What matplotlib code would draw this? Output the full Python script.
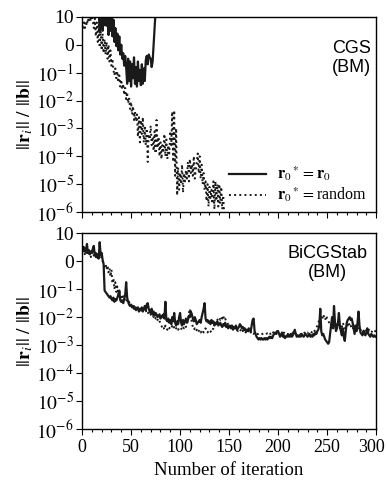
import matplotlib
matplotlib.use("Agg")
import matplotlib.pyplot as plt
import numpy as np
from matplotlib.ticker import FixedLocator, LogLocator, NullFormatter, MultipleLocator

plt.rcParams['font.family'] = ['Liberation Serif', 'DejaVu Serif']
plt.rcParams['mathtext.fontset'] = 'stix'

# log10 of ||r_i||/||b|| (values > 1 are off the top of the axes)
cgs_r0_log = [
    1.5, 1.5, 1.5, 1.5, 1.5, 1.5, 1.5, 1.5, 1.5, 1.5,
    1.5, 1.5, 1.5, 1.5, 1.5, 1.5, 1.5, 1.2, 0.45, 1.1,
    0.9, 0.5, 1.05, 0.7, 1.2, 0.68, 1.1, 0.35, 1.15, 0.5,
    1.1, 0.3, 0.9, 0.1, 0.6, -0.05, 0.4, -0.2, 0.3, -0.35,
    0.0, -0.5, -0.3, -0.75, -0.4, -0.8, -1.4, -0.5, -1.3, -0.6,
    -1.5, -0.7, -1.2, -0.45, -1.4, -0.8, -1.5, -0.6, -1.3, -0.9,
    -1.45, -0.7, -1.4, -0.85, -1.3, -0.55, -0.4, -0.7, -0.35, -0.45,
    -0.5, -0.8, -0.6, 0.0, 0.6, 1.2, 1.6,
]
cgs_rand_log = [
    0.7, 0.55, 0.8, 0.6, 0.85, 0.7, 0.95, 0.8, 1.0, 0.9,
    1.0, 0.85, 0.6, 0.95, 0.3, 0.8, 0.1, 0.7, -0.1, 0.5,
    -0.2, 0.4, -0.3, 0.2, -0.35, 0.1, -0.5, 0.0, -0.6, -0.2,
    -0.75, -0.5, -0.9, -1.1, -0.85, -1.2, -0.95, -1.35, -1.1, -1.5,
    -1.25, -1.6, -1.4, -1.8, -1.55, -1.95, -1.7, -2.1, -1.9, -2.3,
    -2.05, -2.5, -2.2, -2.7, -2.4, -2.75, -2.5, -3.3, -2.6, -3.5,
    -2.7, -3.2, -2.6, -3.5, -2.9, -3.6, -3.0, -4.2, -3.2, -3.4,
    -2.9, -3.6, -3.3, -3.8, -3.1, -3.9, -2.7, -3.7, -3.3, -4.0,
    -3.5, -4.1, -3.6, -3.8, -3.2, -4.0, -3.4, -4.1, -3.6, -3.9,
    -3.1, -3.6, -2.4, -4.2, -2.35, -4.7, -3.0, -5.4, -4.4, -5.2,
    -4.6, -5.0, -4.3, -5.3, -4.6, -4.9, -4.5, -4.8, -4.2, -4.9,
    -4.1, -4.6, -4.3, -4.7, -4.0, -4.8, -4.5, -4.2, -3.9, -4.6,
    -4.0, -4.8, -4.3, -5.0, -4.6, -5.2, -4.9, -5.6, -5.0, -5.8,
    -5.1, -5.5, -5.2, -5.7, -4.9, -5.9, -4.9, -5.6, -5.0, -5.8,
    -5.0, -5.7, -5.1, -5.9, -5.4, -6.1,
]
bicg_r0_log = [
    0.55, 0.45, 0.5, 0.35, 0.4, 0.62, 0.3, 0.4, 0.25, 0.35,
    0.3, 0.45, 0.55, 0.2, 0.3, 0.15, 0.25, 0.1, 0.68, 0.2,
    0.3, 0.05, -0.1, -1.05, -1.1, -1.15, -1.2, -1.25, -1.3, -1.25,
    -1.35, -1.4, -1.3, -1.45, -1.35, -1.4, -1.3, -1.2, -1.05, -1.4,
    -1.45, -1.4, -1.5, -1.35, -1.2, -0.75, -1.3, -1.45, -1.55, -1.6,
    -1.55, -1.65, -1.6, -1.7, -1.65, -1.75, -1.7, -1.65, -1.8, -1.7,
    -1.75, -1.65, -1.8, -1.7, -1.6, -1.75, -1.55, -1.5, -1.7, -1.8,
    -1.85, -1.7, -1.9, -1.8, -1.95, -1.85, -1.9, -2.0, -1.95, -1.9,
    -2.05, -1.95, -2.0, -1.9, -2.05, -1.45, -2.1, -2.15, -2.05, -2.2,
    -2.1, -2.25, -2.0, -2.15, -1.85, -2.2, -2.3, -2.15, -2.25, -2.0,
    -1.85, -2.2, -2.3, -2.1, -2.25, -2.15, -2.05, -2.2, -2.1, -1.95,
    -2.0, -1.8, -1.9, -2.05, -2.15, -2.0, -2.1, -2.25, -2.2, -2.15,
    -2.1, -2.2, -2.0, -1.85, -1.7, -1.5, -2.05, -2.15, -2.1, -2.2,
    -2.15, -2.25, -2.1, -2.2, -2.15, -2.3, -2.2, -2.25, -2.15, -2.3,
    -2.25, -2.2, -2.3, -2.35, -2.25, -2.3, -2.2, -2.35, -2.3, -2.4,
    -2.3, -2.35, -2.4, -2.3, -2.45, -2.35, -2.4, -2.3, -2.45, -2.4,
    -2.35, -2.25, -2.3, -2.4, -2.35, -2.45, -2.4, -2.5, -2.45, -2.5,
    -2.4, -2.45, -2.5, -2.3, -2.1, -2.05, -2.5, -2.6, -2.7, -2.75,
    -2.8, -2.75, -2.8, -2.75, -2.8, -2.8, -2.75, -2.8, -2.75, -2.8,
    -2.75, -2.7, -2.75, -2.7, -2.75, -2.65, -2.6, -2.55, -2.6, -2.5,
    -2.5, -2.6, -2.7, -2.65, -2.55, -2.7, -2.65, -2.75, -2.7, -2.65,
    -2.7, -2.65, -2.7, -2.6, -2.7, -2.65, -2.55, -2.45, -2.6, -2.7,
    -2.65, -2.7, -2.65, -2.7, -2.6, -2.65, -2.7, -2.65, -2.6, -2.65,
    -2.7, -2.65, -2.6, -2.7, -2.65, -2.7, -2.6, -2.65, -2.55, -2.6,
    -2.5, -2.45, -2.3, -1.7, -2.5, -2.65, -2.6, -2.7, -2.8, -2.85,
    -2.9, -2.95, -2.9, -2.6, -2.3, -2.0, -2.4, -1.6, -2.2, -2.5,
    -2.4, -2.2, -1.85, -2.3, -2.5, -2.65, -2.4, -2.7, -2.85, -2.5,
    -2.2, -2.1, -2.05, -2.0, -2.1, -2.05, -2.2, -2.4, -2.6, -2.3,
    -2.5, -2.2, -1.8, -2.3, -2.55, -2.6, -2.65, -2.5, -2.6, -2.65,
    -2.55, -2.4, -2.6, -2.65, -2.7, -2.6, -2.65, -2.7, -2.65, -2.7,
    -2.7,
]
bicg_rand_log = [
    0.45, 0.3, 0.4, 0.2, 0.35, 0.25, 0.4, 0.2, 0.3, 0.15,
    0.25, 0.35, 0.2, 0.3, 0.1, 0.25, 0.05, 0.2, 0.35, 0.1,
    0.15, 0.0, -0.1, -0.2, -0.1, -0.3, -0.15, -0.4, -0.25, -0.55,
    -0.3, -0.8, -0.6, -1.0, -0.75, -1.1, -0.9, -1.2, -1.05, -1.3,
    -1.2, -1.35, -1.25, -1.4, -1.3, -1.35, -1.45, -1.5, -1.45, -1.55,
    -1.6, -1.55, -1.65, -1.6, -1.7, -1.65, -1.7, -1.75, -1.7, -1.75,
    -1.7, -1.8, -1.75, -1.7, -1.8, -1.75, -1.85, -1.8, -1.9, -1.85,
    -1.9, -1.95, -1.9, -2.0, -1.95, -2.05, -2.0, -2.1, -2.05, -2.15,
    -2.2, -2.3, -2.4, -2.35, -2.45, -2.3, -2.4, -2.45, -2.35, -2.4,
    -2.35, -2.4, -2.3, -2.4, -2.35, -2.45, -2.4, -2.35, -2.45, -2.4,
    -2.35, -2.4, -2.45, -2.35, -2.4, -2.3, -2.35, -2.25, -2.1, -1.85,
    -1.7, -1.9, -2.2, -2.35, -2.45, -2.4, -2.5, -2.45, -2.55, -2.5,
    -2.45, -2.55, -2.5, -2.45, -2.55, -2.5, -2.4, -2.5, -2.55, -2.5,
    -2.45, -2.5, -2.55, -2.45, -2.4, -2.3, -2.2, -2.15, -2.1, -2.05,
    -2.0, -2.1, -2.0, -2.05, -1.95, -2.1, -2.05, -2.15, -2.2, -2.25,
    -2.3, -2.35, -2.3, -2.4, -2.35, -2.45, -2.4, -2.35, -2.45, -2.5,
    -2.45, -2.5, -2.45, -2.4, -2.5, -2.45, -2.5, -2.55, -2.5, -2.55,
    -2.5, -2.45, -2.55, -2.5, -2.55, -2.6, -2.55, -2.6, -2.6, -2.6,
    -2.6, -2.58, -2.6, -2.62, -2.6, -2.58, -2.6, -2.62, -2.6, -2.58,
    -2.6, -2.55, -2.6, -2.58, -2.5, -2.55, -2.6, -2.55, -2.6, -2.58,
    -2.55, -2.6, -2.62, -2.6, -2.58, -2.6, -2.55, -2.6, -2.58, -2.6,
    -2.6, -2.62, -2.6, -2.58, -2.6, -2.55, -2.6, -2.58, -2.6, -2.62,
    -2.6, -2.58, -2.6, -2.62, -2.6, -2.58, -2.6, -2.55, -2.6, -2.58,
    -2.55, -2.6, -2.58, -2.6, -2.55, -2.5, -2.55, -2.5, -2.45, -2.4,
    -2.3, -2.2, -2.1, -2.0, -1.95, -2.05, -1.9, -2.0, -2.1, -1.95,
    -2.05, -2.1, -2.2, -2.3, -2.25, -2.2, -2.1, -2.3, -2.35, -2.25,
    -2.3, -2.35, -2.25, -2.4, -2.3, -2.35, -2.2, -2.3, -2.4, -2.35,
    -2.25, -2.3, -2.2, -2.35, -2.3, -2.4, -2.35, -2.45, -2.4, -2.35,
    -2.4, -2.45, -2.35, -2.4, -2.45, -2.5, -2.45, -2.5, -2.45, -2.4,
    -2.5, -2.45, -2.5, -2.45, -2.5, -2.55, -2.5, -2.45, -2.5, -2.5,
    -2.5,
]

ytick_vals = [1e1, 1e0, 1e-1, 1e-2, 1e-3, 1e-4, 1e-5, 1e-6]
ytick_labels = ['10', '0', r'$10^{-1}$', r'$10^{-2}$', r'$10^{-3}$',
                r'$10^{-4}$', r'$10^{-5}$', r'$10^{-6}$']
xtick_vals = [0, 50, 100, 150, 200, 250, 300]

fig = plt.figure(figsize=(3.87, 4.82), dpi=100)
ax1 = fig.add_axes([0.212, 0.560, 0.760, 0.405])
ax2 = fig.add_axes([0.212, 0.110, 0.760, 0.406])

def style(ax):
    ax.set_yscale('log')
    ax.set_xlim(0, 300)
    ax.set_ylim(1e-6, 1e1)
    ax.yaxis.set_major_locator(FixedLocator(ytick_vals))
    ax.set_yticklabels(ytick_labels)
    ax.yaxis.set_minor_locator(LogLocator(base=10, subs=np.arange(2, 10)))
    ax.yaxis.set_minor_formatter(NullFormatter())
    ax.set_xticks(xtick_vals)
    ax.xaxis.set_minor_locator(MultipleLocator(10))
    ax.tick_params(axis='y', which='major', direction='out', length=4, labelsize=14, pad=2)
    ax.tick_params(axis='y', which='minor', direction='in', length=2.5)
    ax.tick_params(axis='x', which='major', direction='out', length=4, labelsize=13)
    ax.tick_params(axis='x', which='minor', direction='out', length=2.5)
    ax.tick_params(width=0.8, which='both')
    for s in ax.spines.values():
        s.set_linewidth(1.0)
    ax.set_ylabel(r'$||\mathbf{r}_i||\ /\ ||\mathbf{b}||$', fontsize=14, labelpad=1)

for ax in (ax1, ax2):
    style(ax)

it1 = np.arange(len(cgs_r0_log))
it2 = np.arange(len(cgs_rand_log))
ax1.plot(it1, 10.0 ** np.array(cgs_r0_log), color='#1a1a1a', lw=1.6, ls='-',
         label=r'$\mathbf{r}_0{}^* = \mathbf{r}_0$')
ax1.plot(it2, 10.0 ** np.array(cgs_rand_log), color='#1a1a1a', lw=1.4, ls=':',
         label=r'$\mathbf{r}_0{}^* = $random')
ax1.set_xticklabels([])
ax1.text(0.915, 0.79, 'CGS\n(BM)', transform=ax1.transAxes, ha='center', va='center',
         fontsize=13, family='Liberation Sans', linespacing=1.15)
ax1.legend(loc='lower right', bbox_to_anchor=(1.0, -0.01), frameon=False, fontsize=11.5,
           handlelength=2.3, borderaxespad=0.2, labelspacing=0.15, handletextpad=0.7)

it3 = np.arange(len(bicg_r0_log))
it4 = np.arange(len(bicg_rand_log))
ax2.plot(it4, 10.0 ** np.array(bicg_rand_log), color='#1a1a1a', lw=1.4, ls=':')
ax2.plot(it3, 10.0 ** np.array(bicg_r0_log), color='#1a1a1a', lw=1.6, ls='-')
ax2.text(0.835, 0.85, 'BiCGStab\n(BM)', transform=ax2.transAxes, ha='center', va='center',
         fontsize=13, family='Liberation Sans', linespacing=1.15)
ax2.set_xlabel('Number of iteration', fontsize=13.5, labelpad=4)

# last x tick label nudged left a little so it stays inside the figure edge
ax2.set_xticklabels([str(v) for v in xtick_vals[:-1]] + [''])
ax2.annotate(str(xtick_vals[-1]), xy=(xtick_vals[-1], 0),
             xycoords=('data', 'axes fraction'), xytext=(-3, -7.5),
             textcoords='offset points', ha='center', va='top', fontsize=13)

fig.savefig('out.png', dpi=100)
